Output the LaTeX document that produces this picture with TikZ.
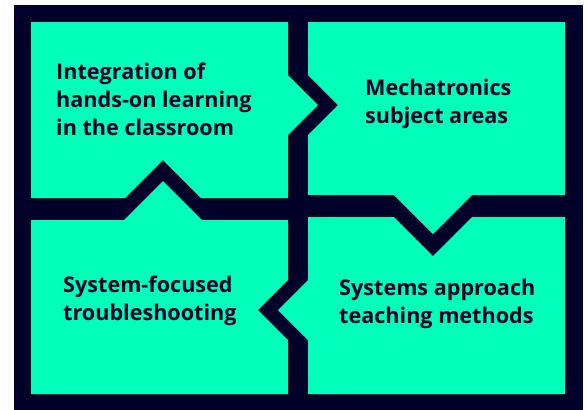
\documentclass[tikz,border=0pt]{standalone}
\usepackage{fontspec}
\setmainfont{Open Sans}
\definecolor{darkbg}{HTML}{000028}
\definecolor{mint}{HTML}{00FFB9}
\begin{document}
\begin{tikzpicture}[x=1pt,y=-1pt,
  panel/.style={fill=mint, draw=none},
  lbl/.style={anchor=base west, inner sep=0pt, align=left, text=darkbg,
    font=\fontsize{21.6}{28}\selectfont\bfseries}]
\useasboundingbox (0,0) rectangle (587,410);
\fill[darkbg] (14,5) rectangle (583,410);
% top-left panel
\fill[panel] (31,22) -- (288,22) -- (288,75) -- (318,105) -- (288,135) -- (288,198)
  -- (201,198) -- (163,160) -- (125,198) -- (31,198) -- cycle;
% top-right panel
\fill[panel] (308,22) -- (565,22) -- (565,195) -- (472,195) -- (433,234) -- (394,195)
  -- (308,195) -- (308,135) -- (338,105) -- (308,75) -- cycle;
% bottom-left panel
\fill[panel] (31,220) -- (124,220) -- (163,181) -- (202,220) -- (288,220) -- (288,280)
  -- (258,310) -- (288,340) -- (288,394) -- (31,394) -- cycle;
% bottom-right panel
\fill[panel] (308,217) -- (394,217) -- (433,256) -- (472,217) -- (565,217) -- (565,394)
  -- (308,394) -- (308,340) -- (278,310) -- (308,280) -- cycle;
% labels (anchor is the baseline of the last line)
\node[lbl] (t1) at (56,135) {Integration of\\hands-on learning\\in the classroom};
\node[lbl] (t2) at (365,123) {Mechatronics\\subject areas};
\node[lbl] (t3) at (63,320) {System-focused\\troubleshooting};
\node[lbl] (t4) at (339,323) {Systems approach\\teaching methods};
\end{tikzpicture}
\end{document}
